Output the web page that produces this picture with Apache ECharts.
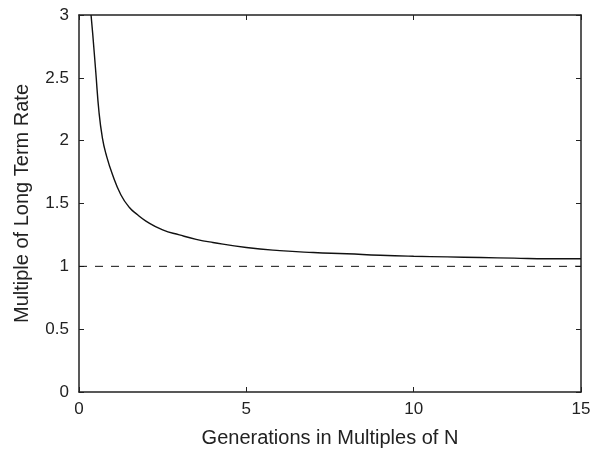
<!DOCTYPE html>
<html><head><meta charset="utf-8">
<script src="https://cdn.jsdelivr.net/npm/echarts@6/dist/echarts.min.js"></script>
<style>html,body{margin:0;padding:0;background:#fff}#c{width:594px;height:454px}</style>
</head><body><div id="c"></div>
<script>
const generations = [0.36,0.41,0.5,0.6,0.7,0.8,1.0,1.25,1.5,1.75,2.0,2.5,3.0,3.5,4.0,5.0,6.0,7.0,8.0,9.0,10.0,11.0,12.0,13.0,14.0,15.0];
const rateMultiple = [3.0,2.85,2.55,2.22,2.02,1.9,1.73,1.57,1.47,1.41,1.36,1.29,1.25,1.215,1.19,1.15,1.125,1.11,1.10,1.088,1.08,1.075,1.07,1.065,1.06,1.06];
const refX = [0, 15];
const refY = [1, 1];
const xTicks = [0,5,10,15];
const yTicks = [0,0.5,1,1.5,2,2.5,3];

const font = 'Liberation Sans, Arial, sans-serif';
const axisLine = {show:true, onZero:false, lineStyle:{color:'#222', width:1.5}};
const axisTick = {show:true, inside:true, length:5, lineStyle:{color:'#222', width:1}};
const chart = echarts.init(document.getElementById('c'));
chart.setOption({
  animation:false,
  backgroundColor:'#fff',
  grid:{left:79, right:13, top:15, bottom:62},
  xAxis:[
    {type:'value', min:0, max:15, interval:5, position:'bottom',
     axisLine, axisTick, splitLine:{show:false},
     axisLabel:{color:'#222', fontSize:17, fontFamily:font, margin:9, formatter:v=>String(v)},
     name:'Generations in Multiples of N', nameLocation:'middle', nameGap:36,
     nameTextStyle:{color:'#222', fontSize:20, fontFamily:font}},
    {type:'value', min:0, max:15, interval:5, position:'top',
     axisLine, axisTick, splitLine:{show:false}, axisLabel:{show:false}}
  ],
  yAxis:[
    {type:'value', min:0, max:3, interval:0.5, position:'left',
     axisLine, axisTick, splitLine:{show:false},
     axisLabel:{color:'#222', fontSize:17, fontFamily:font, margin:10, formatter:v=>String(v)},
     name:'Multiple of Long Term Rate', nameLocation:'middle', nameGap:47,
     nameTextStyle:{color:'#222', fontSize:20, fontFamily:font}},
    {type:'value', min:0, max:3, interval:0.5, position:'right',
     axisLine, axisTick, splitLine:{show:false}, axisLabel:{show:false}}
  ],
  series:[
    {type:'line', data:generations.map((x,i)=>[x, rateMultiple[i]]), smooth:true, showSymbol:false,
     lineStyle:{color:'#111', width:1.4}, clip:true},
    {type:'line', data:refX.map((x,i)=>[x, refY[i]]), showSymbol:false,
     lineStyle:{color:'#111', width:1, type:[8,8]}}
  ]
});
</script></body></html>
